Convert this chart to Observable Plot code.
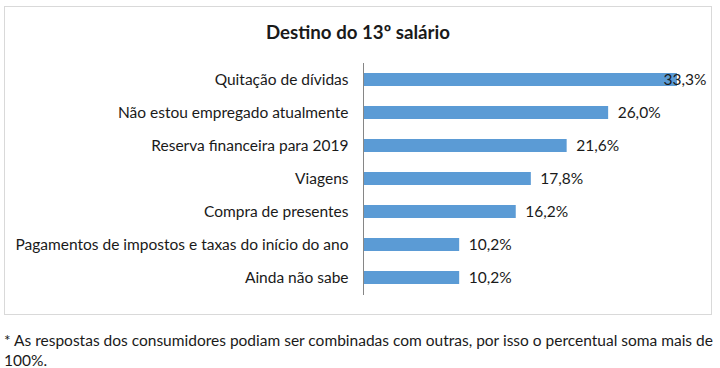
<!DOCTYPE html>
<html>
<head>
<meta charset="utf-8">
<script src="https://cdn.jsdelivr.net/npm/d3@7"></script>
<script src="https://cdn.jsdelivr.net/npm/@observablehq/plot@0.6"></script>
<style>
  html, body { margin: 0; padding: 0; background: #fff; }
  body { width: 720px; height: 368px; position: relative; font-family: Lato, sans-serif; color: #1a1a1a; }
  #box { position: absolute; left: 4px; top: 6px; width: 706px; height: 307px; border: 1px solid #d9d9d9; }
  #title { position: absolute; left: 0; top: 14px; width: 100%; text-align: center; font-weight: bold; font-size: 18.7px; }
  #chart { position: absolute; left: 0; top: 0; }
  #note { position: absolute; left: 4px; top: 330px; width: 716px; font-size: 15.5px; line-height: 20px; }
</style>
</head>
<body>
<div id="box"><div id="chart"></div><div id="title">Destino do 13º salário</div></div>
<div id="note">* As respostas dos consumidores podiam ser combinadas com outras, por isso o percentual soma mais de 100%.</div>
<script>
const categories = [
  "Quitação de dívidas",
  "Não estou empregado atualmente",
  "Reserva financeira para 2019",
  "Viagens",
  "Compra de presentes",
  "Pagamentos de impostos e taxas do início do ano",
  "Ainda não sabe"
];
const values = [33.3, 26.0, 21.6, 17.8, 16.2, 10.2, 10.2];
const data = categories.map((c, i) => ({category: c, value: values[i]}));
const fmt = v => v.toFixed(1).replace(".", ",") + "%";

const chart = Plot.plot({
  width: 706,
  height: 307,
  marginLeft: 358,
  marginRight: 18,
  marginTop: 56,
  marginBottom: 19,
  style: {fontFamily: "Lato, sans-serif", fontSize: "15.5px", color: "#1a1a1a", background: "transparent"},
  x: {domain: [0, 35], axis: null},
  y: {domain: categories, paddingInner: 0.6, paddingOuter: 0.3, label: null},
  marks: [
    Plot.barX(data, {x: "value", y: "category", fill: "#5b9bd5"}),
    Plot.ruleX([0], {stroke: "#868686"}),
    Plot.axisY({tickSize: 0, tickPadding: 15, fontSize: 15.5, label: null}),
    Plot.text(data.filter(d => d.value < 30), {x: "value", y: "category", text: d => fmt(d.value), textAnchor: "start", dx: 9, fontSize: 15.5, fill: "#1a1a1a"}),
    Plot.text(data.filter(d => d.value >= 30), {y: "category", text: d => fmt(d.value), frameAnchor: "right", textAnchor: "end", dx: 13, fontSize: 15.5, fill: "#1a1a1a"})
  ]
});
document.getElementById("chart").appendChild(chart);
</script>
</body>
</html>
